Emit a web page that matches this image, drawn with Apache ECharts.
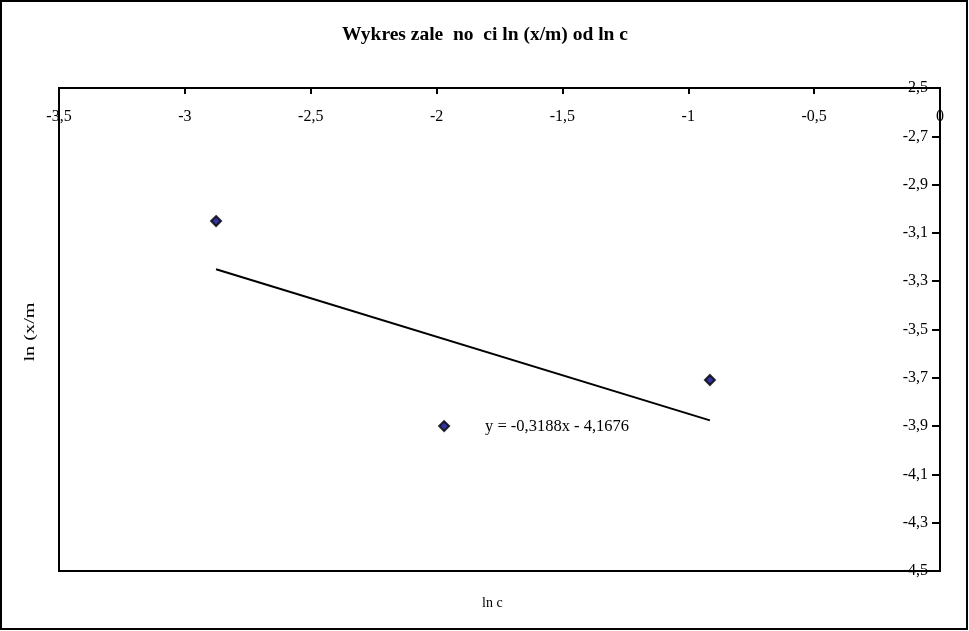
<!DOCTYPE html>
<html>
<head>
<meta charset="utf-8">
<script src="https://cdn.jsdelivr.net/npm/echarts@6/dist/echarts.min.js"></script>
<style>html,body{margin:0;padding:0;background:#fff}#c{width:969px;height:631px}</style>
</head>
<body>
<div id="c"></div>
<script>
const titleText = 'Wykres zale  no  ci ln (x/m) od ln c';
const xName = 'ln c';
const yName = 'ln (x/m';
const lnC = [-2.876, -1.970, -0.914];
const lnXm = [-3.051, -3.900, -3.709];
const trendSlope = -0.3188;
const trendIntercept = -4.1676;
const trendRange = [-2.876, -0.914];
const equationText = 'y = -0,3188x - 4,1676';

const points = lnC.map((x, i) => [x, lnXm[i]]);
const trend = trendRange.map(x => [x, trendSlope * x + trendIntercept]);
const fmt = v => String(Math.round(v * 10) / 10).replace('.', ',');
const font = '"Liberation Serif", "Times New Roman", serif';

const chart = echarts.init(document.getElementById('c'), null, {renderer: 'canvas'});
chart.setOption({
  animation: false,
  backgroundColor: '#fff',
  title: {
    text: titleText, left: 480, top: 20, textAlign: 'center',
    textStyle: {fontFamily: font, fontSize: 19.5, fontWeight: 'bold', color: '#000'}
  },
  grid: {left: 59, right: 29, top: 88, bottom: 60, show: true, borderColor: '#000', borderWidth: 2, backgroundColor: '#fff'},
  xAxis: {
    type: 'value', position: 'top', min: -3.5, max: 0, interval: 0.5,
    axisLine: {show: true, onZero: false, lineStyle: {color: '#000', width: 2}},
    axisTick: {show: true, inside: true, length: 6, lineStyle: {color: '#000', width: 2}},
    axisLabel: {inside: true, margin: 21, color: '#000', fontFamily: font, fontSize: 16, formatter: fmt, showMinLabel: true, showMaxLabel: true},
    splitLine: {show: false}
  },
  yAxis: {
    type: 'value', position: 'right', min: -4.5, max: -2.5, interval: 0.2,
    axisLine: {show: true, onZero: false, lineStyle: {color: '#000', width: 2}},
    axisTick: {show: true, inside: true, length: 8, lineStyle: {color: '#000', width: 2}},
    axisLabel: {inside: true, margin: 12, padding: [8, 0, 0, 0], color: '#000', fontFamily: font, fontSize: 16, formatter: fmt, showMinLabel: true, showMaxLabel: true},
    splitLine: {show: false}
  },
  series: [
    {
      type: 'line', data: trend, symbol: 'none',
      lineStyle: {color: '#000', width: 2}, z: 2
    },
    {
      type: 'scatter', data: points, symbol: 'diamond', symbolSize: 10,
      itemStyle: {color: '#000080', borderColor: '#000', borderWidth: 2}, z: 3
    }
  ],
  graphic: [
    {type: 'rect', shape: {x: 1, y: 1, width: 966, height: 628}, style: {fill: 'none', stroke: '#000', lineWidth: 2}, z: 100, silent: true},
    {type: 'text', left: 485, top: 418, style: {text: equationText, font: '16.5px ' + font, fill: '#000'}},
    {type: 'text', left: 482, top: 596, style: {text: xName, font: '14px ' + font, fill: '#000'}},
    {type: 'text', x: 30, y: 332, rotation: Math.PI / 2, scaleX: 1.35, style: {text: yName, font: '15px ' + font, fill: '#000', align: 'center', verticalAlign: 'middle'}}
  ]
});
</script>
</body>
</html>
